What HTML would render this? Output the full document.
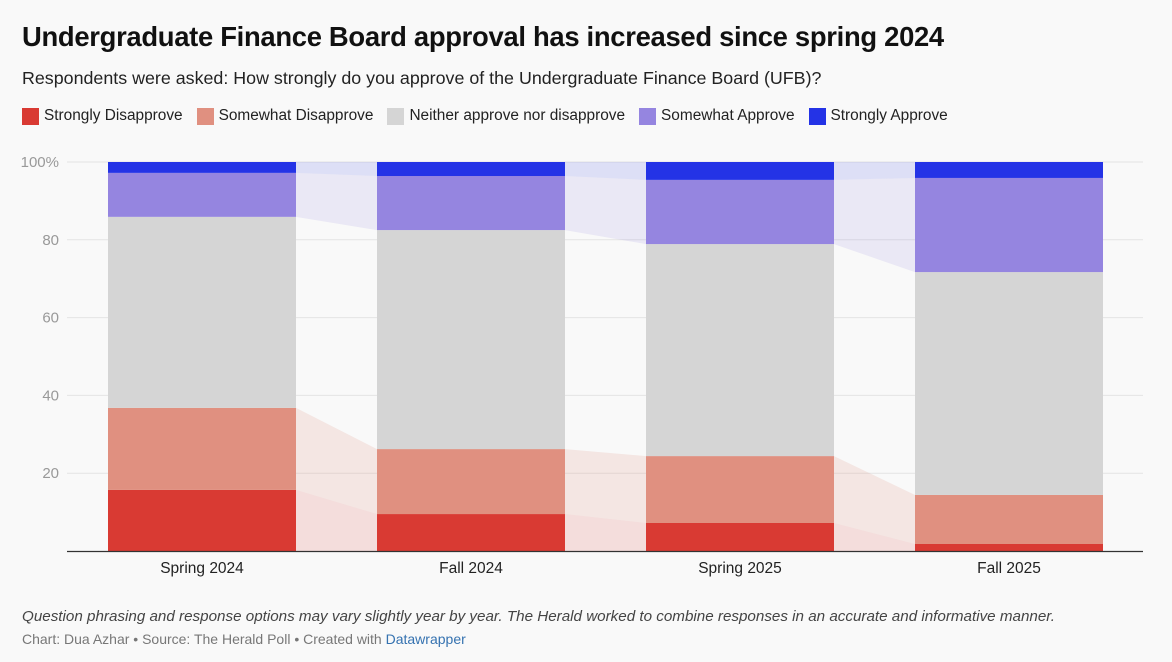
<!DOCTYPE html>
<html><head><meta charset="utf-8"><style>
body{margin:0;background:#f9f9f9;font-family:"Liberation Sans",Arial,sans-serif;width:1172px;height:662px;overflow:hidden;position:relative}
.t{position:absolute;left:22px;top:21px;font-size:27.4px;font-weight:bold;color:#111;letter-spacing:-0.3px}
.s{position:absolute;left:22px;top:68px;font-size:17.85px;color:#222}
.lg{position:absolute;left:22px;top:107px;font-size:15.4px;color:#222;display:flex}
.lg span{display:flex;align-items:center;margin-right:14px}
.lg i{display:inline-block;width:17px;height:17px;margin-right:5px}
.n{position:absolute;left:22px;top:608px;font-size:15.2px;font-style:italic;color:#444}
.c{position:absolute;left:22px;top:631px;font-size:14px;color:#777}
.c a{color:#3572b0;text-decoration:none}
</style></head><body>
<div class="t">Undergraduate Finance Board approval has increased since spring 2024</div>
<div class="s">Respondents were asked: How strongly do you approve of the Undergraduate Finance Board (UFB)?</div>
<div class="lg">
<span><i style="background:#d93a33"></i>Strongly Disapprove</span>
<span><i style="background:#e09080"></i>Somewhat Disapprove</span>
<span><i style="background:#d5d5d5"></i>Neither approve nor disapprove</span>
<span><i style="background:#9585e0"></i>Somewhat Approve</span>
<span><i style="background:#2433e6"></i>Strongly Approve</span>
</div>
<svg id="ch" width="1172" height="662" style="position:absolute;left:0;top:0"></svg>
<div class="n">Question phrasing and response options may vary slightly year by year. The Herald worked to combine responses in an accurate and informative manner.</div>
<div class="c">Chart: Dua Azhar • Source: The Herald Poll • Created with <a>Datawrapper</a></div>
<script>
const categories=["Spring 2024","Fall 2024","Spring 2025","Fall 2025"];
const strongDis=[15.7,9.5,7.2,1.8];
const someDis=[21.1,16.7,17.2,12.6];
const neither=[49.1,56.3,54.5,57.3];
const someApp=[11.3,13.9,16.5,24.2];
const strongApp=[2.8,3.6,4.6,4.1];
const yTicks=[20,40,60,80,100];
const series=[strongDis,someDis,neither,someApp,strongApp];
const colors=["#d93a33","#e09080","#d5d5d5","#9585e0","#2433e6"];
const conn=["rgba(217,58,51,0.15)","rgba(224,144,128,0.18)","rgba(255,255,255,0.0)","rgba(149,133,224,0.15)","rgba(36,51,230,0.13)"];
const svg=document.getElementById('ch');const NS="http://www.w3.org/2000/svg";
const y=v=>551-v*3.89;
const bx=i=>108+i*269, bw=188;
function mk(t,a){const e=document.createElementNS(NS,t);for(const k in a)e.setAttribute(k,a[k]);svg.appendChild(e);return e;}
yTicks.forEach(v=>{const l=mk('line',{x1:67,x2:1143,y1:y(v),y2:y(v),stroke:'#e4e4e4'});

const t=mk('text',{x:59,y:y(v)+5,'text-anchor':'end','font-size':15,fill:'#999'});t.textContent=v==100?'100%':v;
});
const cum=categories.map((c,i)=>{let s=0;return series.map(a=>{const b=s;s+=a[i];return [b,s];});});
series.forEach((a,k)=>{for(let i=0;i<categories.length-1;i++){
const x1=bx(i)+bw,x2=bx(i+1);const p=cum[i][k],q=cum[i+1][k];
const e=mk('polygon',{points:`${x1},${y(p[0])} ${x1},${y(p[1])} ${x2},${y(q[1])} ${x2},${y(q[0])}`,fill:conn[k]});
}});
categories.forEach((c,i)=>{series.forEach((a,k)=>{const [b,s]=cum[i][k];
const r=mk('rect',{x:bx(i),y:y(s),width:bw,height:y(b)-y(s),fill:colors[k]});
});
const t=mk('text',{x:bx(i)+bw/2,y:573,'text-anchor':'middle','font-size':15.5,fill:'#222'});t.textContent=c;
});
const base=mk('line',{x1:67,x2:1143,y1:551.5,y2:551.5,stroke:'#333','stroke-width':1.2});

</script>
</body></html>
